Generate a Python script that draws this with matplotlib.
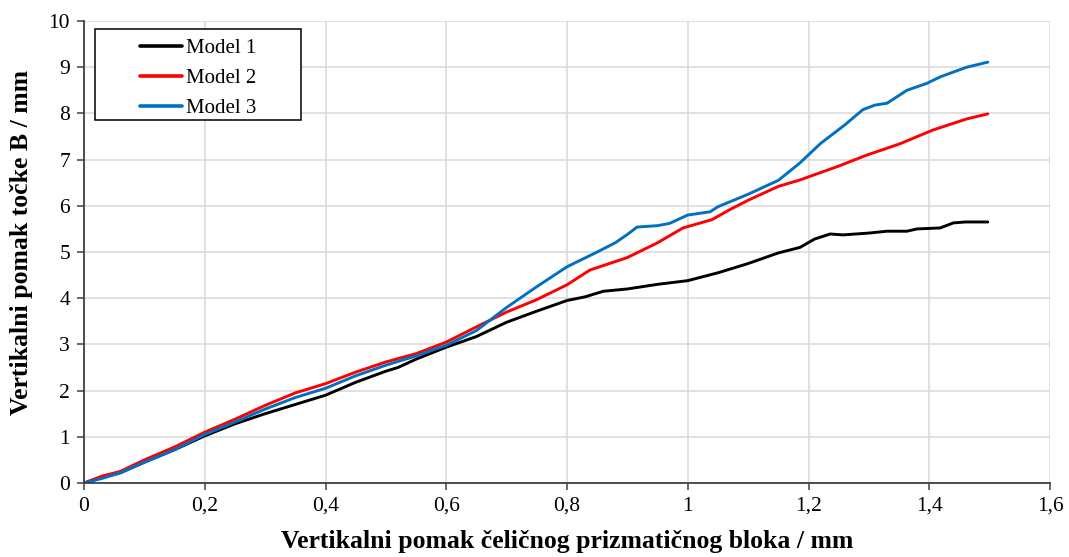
import matplotlib
matplotlib.use("Agg")
import matplotlib.pyplot as plt
from matplotlib.ticker import FuncFormatter, MultipleLocator
from matplotlib.patches import Rectangle

plt.rcParams['font.family'] = ['Liberation Serif', 'DejaVu Serif']

m1_x = [0, 0.03, 0.06, 0.1, 0.15, 0.2, 0.25, 0.3, 0.35, 0.4, 0.45, 0.5, 0.52, 0.55, 0.6, 0.65, 0.7,
        0.75, 0.8, 0.83, 0.86, 0.9, 0.95, 1.0, 1.05, 1.1, 1.15, 1.186, 1.21, 1.236, 1.257, 1.3, 1.33,
        1.363, 1.38, 1.418, 1.44, 1.46, 1.497]
m1_y = [0, 0.12, 0.22, 0.45, 0.72, 1.02, 1.28, 1.5, 1.7, 1.9, 2.18, 2.42, 2.5, 2.68, 2.94, 3.17, 3.48,
        3.72, 3.95, 4.03, 4.15, 4.2, 4.3, 4.38, 4.55, 4.75, 4.98, 5.1, 5.28, 5.39, 5.37, 5.41, 5.45,
        5.45, 5.5, 5.52, 5.63, 5.65, 5.65]

m2_x = [0, 0.03, 0.06, 0.1, 0.15, 0.2, 0.25, 0.3, 0.35, 0.4, 0.45, 0.5, 0.55, 0.6, 0.65, 0.7, 0.75,
        0.8, 0.838, 0.9, 0.95, 0.992, 1.04, 1.07, 1.1, 1.15, 1.186, 1.25, 1.297, 1.351, 1.406, 1.462, 1.497]
m2_y = [0, 0.15, 0.25, 0.5, 0.78, 1.1, 1.38, 1.68, 1.95, 2.15, 2.4, 2.62, 2.8, 3.05, 3.38, 3.7, 3.97,
        4.29, 4.61, 4.88, 5.2, 5.52, 5.7, 5.92, 6.12, 6.42, 6.56, 6.86, 7.1, 7.34, 7.64, 7.88, 7.99]

m3_x = [0, 0.03, 0.06, 0.1, 0.15, 0.2, 0.25, 0.3, 0.35, 0.4, 0.45, 0.5, 0.55, 0.6, 0.65, 0.7, 0.75,
        0.8, 0.85, 0.88, 0.9, 0.916, 0.95, 0.97, 1.0, 1.037, 1.05, 1.1, 1.15, 1.186, 1.22, 1.26, 1.29,
        1.31, 1.33, 1.363, 1.396, 1.418, 1.462, 1.497]
m3_y = [0, 0.1, 0.22, 0.45, 0.72, 1.05, 1.32, 1.6, 1.85, 2.05, 2.32, 2.55, 2.75, 2.98, 3.3, 3.8, 4.25,
        4.68, 5.0, 5.2, 5.38, 5.54, 5.57, 5.62, 5.8, 5.87, 5.98, 6.25, 6.55, 6.93, 7.35, 7.75, 8.08,
        8.18, 8.22, 8.5, 8.65, 8.79, 9.0, 9.11]

labels = ["Model 1", "Model 2", "Model 3"]
colors = ["#000000", "#ff0000", "#0070c0"]

fig = plt.figure(figsize=(10.69, 5.57), dpi=100)
ax = fig.add_axes([84/1069, 74/557, 966/1069, 462/557])

for xs, ys, lab, c in zip([m1_x, m2_x, m3_x], [m1_y, m2_y, m3_y], labels, colors):
    ax.plot(xs, ys, color=c, lw=2.1, label=lab, solid_joinstyle='round', solid_capstyle='round')

ax.set_xlim(0, 1.6)
ax.set_ylim(0, 10)
ax.xaxis.set_major_locator(MultipleLocator(0.2))
ax.yaxis.set_major_locator(MultipleLocator(1))
fmt = FuncFormatter(lambda v, p: ("%g" % round(v, 2)).replace('.', ','))
ax.xaxis.set_major_formatter(fmt)
ax.yaxis.set_major_formatter(fmt)
ax.grid(True, color='#d9d9d9', lw=1.1)
ax.set_axisbelow(True)
for s in ['top', 'right']:
    ax.spines[s].set_visible(False)
for s in ['left', 'bottom']:
    ax.spines[s].set_color('#404040')
    ax.spines[s].set_linewidth(1.3)
ax.tick_params(axis='both', direction='out', length=5, width=1.1, color='#404040',
               labelsize=15.5, pad=5)
ax.set_xlabel("Vertikalni pomak čeličnog prizmatičnog bloka / mm", fontsize=18.5, fontweight='bold')
ax.set_ylabel("Vertikalni pomak točke B / mm", fontsize=18.5, fontweight='bold')
ax.xaxis.set_label_coords(0.5, (483-530)/462)
ax.yaxis.set_label_coords((33-84)/966, 0.52)

leg = ax.legend(loc='center left', bbox_to_anchor=((140-84)/966, (483-78)/462), frameon=False,
                borderpad=0, borderaxespad=0, fontsize=15, handlelength=2.0, handletextpad=0.2,
                labelspacing=0.5)
for h in leg.get_lines():
    h.set_linewidth(2.6)
ax.add_patch(Rectangle(((95-84)/966, (483-120)/462), (301-95)/966, (120-29)/462,
                       transform=ax.transAxes, fill=True, facecolor='white', edgecolor='black',
                       lw=1.1, zorder=4))
leg.set_zorder(5)

fig.savefig("out.png", dpi=100)
